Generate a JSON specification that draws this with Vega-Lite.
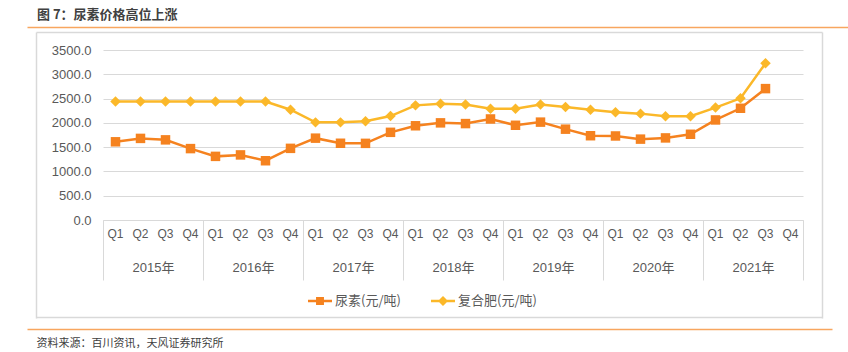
{
  "$schema": "https://vega.github.io/schema/vega-lite/v6.json",
  "autosize": "none",
  "width": 700,
  "height": 170,
  "padding": {"left": 103, "top": 50, "right": 45, "bottom": 132},
  "background": "#ffffff",
  "config": {
    "view": {"stroke": null},
    "font": "Liberation Sans, Noto Sans CJK SC",
    "axis": {"labelFont": "Liberation Sans, Noto Sans CJK SC", "labelColor": "#595959", "titleFont": "Noto Sans CJK SC"},
    "legend": {"labelFont": "Noto Sans CJK SC"}
  },
  "title": {
    "text": "图 7：尿素价格高位上涨",
    "anchor": "start",
    "frame": "group",
    "orient": "top",
    "offset": -8,
    "dx": -66,
    "baseline": "bottom",
    "font": "Noto Sans CJK SC",
    "fontSize": 13,
    "fontWeight": "bold",
    "color": "#404040"
  },
  "layer": [
    {
      "data": {"values": [{"f": 0}, {"f": 1}]},
      "mark": {"type": "point", "opacity": 0},
      "encoding": {
        "x": {
          "field": "f", "type": "quantitative",
          "scale": {"domain": [0, 1], "range": [-67, 719], "nice": false, "zero": false},
          "axis": {"orient": "top", "offset": 18, "values": [0, 1], "labels": false, "title": null, "grid": false,
                   "tickSize": -286, "tickColor": "#d9d9d9", "tickWidth": 1.5, "domainColor": "#d9d9d9", "domainWidth": 1.5}
        }
      }
    },
    {
      "data": {"values": [{"f": 0}, {"f": 1}]},
      "mark": {"type": "point", "opacity": 0},
      "encoding": {
        "x": {
          "field": "f", "type": "quantitative",
          "scale": {"domain": [0, 1], "range": [-67, 719], "nice": false, "zero": false},
          "axis": {"orient": "bottom", "offset": 97, "labels": false, "ticks": false, "title": null, "grid": false,
                   "domainColor": "#d9d9d9", "domainWidth": 1.5}
        }
      }
    },
    {
      "data": {"values": [{"f": 0}, {"f": 1}]},
      "mark": {"type": "point", "opacity": 0},
      "encoding": {
        "x": {
          "field": "f", "type": "quantitative",
          "scale": {"domain": [0, 1], "range": [-76, 745], "nice": false, "zero": false},
          "axis": {"orient": "top", "offset": 23, "labels": false, "ticks": false, "title": null, "grid": false,
                   "domainColor": "#F8A65F", "domainWidth": 1.5}
        }
      }
    },
    {
      "data": {"values": [{"f": 0}, {"f": 1}]},
      "mark": {"type": "point", "opacity": 0},
      "encoding": {
        "x": {
          "field": "f", "type": "quantitative",
          "scale": {"domain": [0, 1], "range": [-76, 729], "nice": false, "zero": false},
          "axis": {"orient": "bottom", "offset": 109, "labels": false, "ticks": false, "title": null, "grid": false,
                   "domainColor": "#F8A65F", "domainWidth": 1.5}
        }
      }
    },
    {
      "data": {"values": [
        {"period": "2015Q1", "series": "尿素(元/吨)", "value": 1610},
        {"period": "2015Q2", "series": "尿素(元/吨)", "value": 1680},
        {"period": "2015Q3", "series": "尿素(元/吨)", "value": 1650},
        {"period": "2015Q4", "series": "尿素(元/吨)", "value": 1470},
        {"period": "2016Q1", "series": "尿素(元/吨)", "value": 1310},
        {"period": "2016Q2", "series": "尿素(元/吨)", "value": 1340},
        {"period": "2016Q3", "series": "尿素(元/吨)", "value": 1220},
        {"period": "2016Q4", "series": "尿素(元/吨)", "value": 1475},
        {"period": "2017Q1", "series": "尿素(元/吨)", "value": 1685},
        {"period": "2017Q2", "series": "尿素(元/吨)", "value": 1580},
        {"period": "2017Q3", "series": "尿素(元/吨)", "value": 1578},
        {"period": "2017Q4", "series": "尿素(元/吨)", "value": 1805},
        {"period": "2018Q1", "series": "尿素(元/吨)", "value": 1940},
        {"period": "2018Q2", "series": "尿素(元/吨)", "value": 2000},
        {"period": "2018Q3", "series": "尿素(元/吨)", "value": 1985},
        {"period": "2018Q4", "series": "尿素(元/吨)", "value": 2080},
        {"period": "2019Q1", "series": "尿素(元/吨)", "value": 1950},
        {"period": "2019Q2", "series": "尿素(元/吨)", "value": 2015},
        {"period": "2019Q3", "series": "尿素(元/吨)", "value": 1870},
        {"period": "2019Q4", "series": "尿素(元/吨)", "value": 1735},
        {"period": "2020Q1", "series": "尿素(元/吨)", "value": 1730},
        {"period": "2020Q2", "series": "尿素(元/吨)", "value": 1665},
        {"period": "2020Q3", "series": "尿素(元/吨)", "value": 1690},
        {"period": "2020Q4", "series": "尿素(元/吨)", "value": 1765},
        {"period": "2021Q1", "series": "尿素(元/吨)", "value": 2060},
        {"period": "2021Q2", "series": "尿素(元/吨)", "value": 2300},
        {"period": "2021Q3", "series": "尿素(元/吨)", "value": 2705},
        {"period": "2015Q1", "series": "复合肥(元/吨)", "value": 2440},
        {"period": "2015Q2", "series": "复合肥(元/吨)", "value": 2440},
        {"period": "2015Q3", "series": "复合肥(元/吨)", "value": 2440},
        {"period": "2015Q4", "series": "复合肥(元/吨)", "value": 2440},
        {"period": "2016Q1", "series": "复合肥(元/吨)", "value": 2440},
        {"period": "2016Q2", "series": "复合肥(元/吨)", "value": 2440},
        {"period": "2016Q3", "series": "复合肥(元/吨)", "value": 2440},
        {"period": "2016Q4", "series": "复合肥(元/吨)", "value": 2270},
        {"period": "2017Q1", "series": "复合肥(元/吨)", "value": 2010},
        {"period": "2017Q2", "series": "复合肥(元/吨)", "value": 2010},
        {"period": "2017Q3", "series": "复合肥(元/吨)", "value": 2035},
        {"period": "2017Q4", "series": "复合肥(元/吨)", "value": 2140},
        {"period": "2018Q1", "series": "复合肥(元/吨)", "value": 2360},
        {"period": "2018Q2", "series": "复合肥(元/吨)", "value": 2395},
        {"period": "2018Q3", "series": "复合肥(元/吨)", "value": 2380},
        {"period": "2018Q4", "series": "复合肥(元/吨)", "value": 2290},
        {"period": "2019Q1", "series": "复合肥(元/吨)", "value": 2290},
        {"period": "2019Q2", "series": "复合肥(元/吨)", "value": 2380},
        {"period": "2019Q3", "series": "复合肥(元/吨)", "value": 2325},
        {"period": "2019Q4", "series": "复合肥(元/吨)", "value": 2270},
        {"period": "2020Q1", "series": "复合肥(元/吨)", "value": 2220},
        {"period": "2020Q2", "series": "复合肥(元/吨)", "value": 2190},
        {"period": "2020Q3", "series": "复合肥(元/吨)", "value": 2135},
        {"period": "2020Q4", "series": "复合肥(元/吨)", "value": 2135},
        {"period": "2021Q1", "series": "复合肥(元/吨)", "value": 2315},
        {"period": "2021Q2", "series": "复合肥(元/吨)", "value": 2505},
        {"period": "2021Q3", "series": "复合肥(元/吨)", "value": 3225}
      ]},
      "encoding": {
        "x": {
          "field": "period",
          "type": "ordinal",
          "sort": null,
          "scale": {
            "type": "band",
            "paddingInner": 0,
            "paddingOuter": 0,
            "domain": ["2015Q1","2015Q2","2015Q3","2015Q4","2016Q1","2016Q2","2016Q3","2016Q4","2017Q1","2017Q2","2017Q3","2017Q4","2018Q1","2018Q2","2018Q3","2018Q4","2019Q1","2019Q2","2019Q3","2019Q4","2020Q1","2020Q2","2020Q3","2020Q4","2021Q1","2021Q2","2021Q3","2021Q4"]
          },
          "axis": {
            "orient": "bottom",
            "title": null,
            "labelExpr": "slice(datum.value, 4)",
            "labelAngle": 0,
            "labelFontSize": 12,
            "labelPadding": 13,
            "labelBaseline": "middle",
            "ticks": false,
            "domainColor": "#d9d9d9",
            "grid": false
          }
        },
        "y": {
          "field": "value",
          "type": "quantitative",
          "scale": {"domain": [0, 3500], "nice": false},
          "axis": {
            "title": null,
            "values": [0, 500, 1000, 1500, 2000, 2500, 3000, 3500],
            "format": ".1f",
            "labelFontSize": 13,
            "labelPadding": 12,
            "ticks": false,
            "domain": false,
            "gridColor": "#d9d9d9",
            "gridWidth": 1
          }
        }
      },
      "layer": [
        {
          "mark": {"type": "line", "strokeWidth": 2.5},
          "encoding": {
            "color": {
              "field": "series",
              "type": "nominal",
              "sort": null,
              "scale": {"domain": ["尿素(元/吨)", "复合肥(元/吨)"], "range": ["#F5821F", "#FBB829"]},
              "legend": {
                "title": null,
                "orient": "none",
                "legendX": 205,
                "legendY": 239,
                "direction": "horizontal",
                "labelFontSize": 13,
                "labelColor": "#595959",
                "labelOffset": 3,
                "columnPadding": 30,
                "symbolSize": 576,
                "encode": {
                  "symbols": {
                    "update": {
                      "shape": {"signal": "datum.value === '尿素(元/吨)' ? 'M-1,-0.1H1V0.1H-1ZM-0.33,-0.33H0.33V0.33H-0.33Z' : 'M-1,-0.1H1V0.1H-1ZM0,-0.42L0.42,0L0,0.42L-0.42,0Z'"},
                      "fill": {"signal": "datum.value === '尿素(元/吨)' ? '#F5821F' : '#FBB829'"},
                      "fillOpacity": {"value": 1},
                      "strokeWidth": {"value": 0},
                      "size": {"value": 576}
                    }
                  }
                }
              }
            }
          }
        },
        {
          "transform": [{"filter": "datum.series === '尿素(元/吨)'"}],
          "mark": {"type": "point", "shape": "square", "filled": true, "opacity": 1, "size": 90, "color": "#F5821F"}
        },
        {
          "transform": [{"filter": "datum.series === '复合肥(元/吨)'"}],
          "mark": {"type": "point", "shape": "diamond", "filled": true, "opacity": 1, "size": 110, "color": "#FBB829"}
        }
      ]
    },
    {
      "data": {"values": [
        {"year": "2015年"}, {"year": "2016年"}, {"year": "2017年"}, {"year": "2018年"},
        {"year": "2019年"}, {"year": "2020年"}, {"year": "2021年"}
      ]},
      "mark": {"type": "point", "opacity": 0},
      "encoding": {
        "x": {
          "field": "year",
          "type": "ordinal",
          "sort": null,
          "scale": {"type": "band", "paddingInner": 0, "paddingOuter": 0},
          "axis": {
            "orient": "bottom",
            "labelAngle": 0,
            "labelFontSize": 13,
            "labelPadding": -13,
            "labelBaseline": "middle",
            "tickBand": "extent",
            "tickSize": 60,
            "tickColor": "#d9d9d9",
            "tickWidth": 1,
            "domain": false,
            "grid": false,
            "title": "资料来源：百川资讯，天风证券研究所",
            "titleFontSize": 11,
            "titleFontWeight": "normal",
            "titleColor": "#404040",
            "titleAnchor": "start",
            "titleAlign": "left",
            "titleBaseline": "middle",
            "titleX": -67,
            "titleY": 123
          }
        }
      }
    }
  ],
  "resolve": {"scale": {"x": "independent", "color": "shared"}, "axis": {"x": "independent"}}
}
